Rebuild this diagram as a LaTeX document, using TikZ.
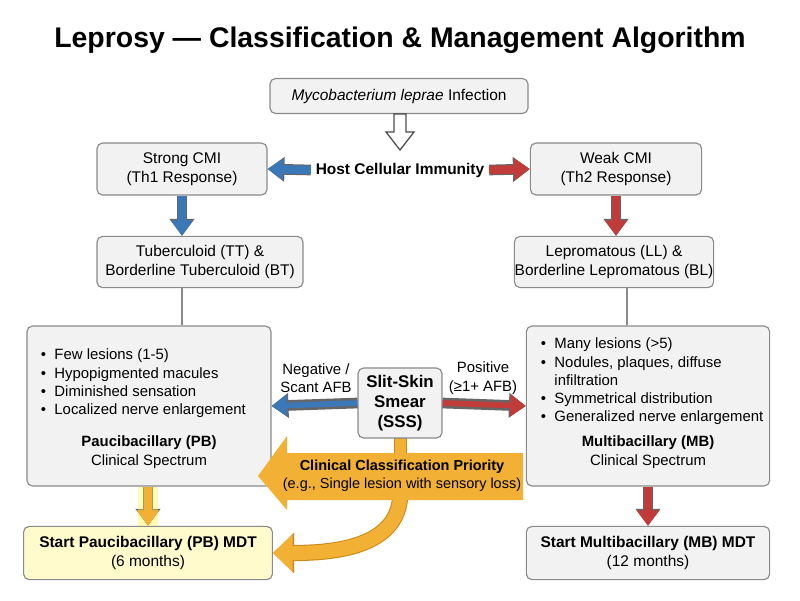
\documentclass[tikz,border=0pt]{standalone}
\usepackage{fontspec}
\setmainfont{Liberation Sans}
\usetikzlibrary{arrows.meta}
\definecolor{bx}{HTML}{F2F2F2}
\definecolor{bd}{HTML}{8A8A8A}
\definecolor{bl}{HTML}{3A78B8}
\definecolor{rd}{HTML}{C23B3B}
\definecolor{og}{HTML}{F2B035}
\definecolor{ogd}{HTML}{C98A1A}
\definecolor{yl}{HTML}{FFFBCC}
\begin{document}
\begin{tikzpicture}[x=0.025cm,y=-0.025cm,
  box/.style={draw=bd,fill=bx,rounded corners=4pt,line width=0.8pt,align=center,font=\fontsize{11}{13.5}\selectfont,inner sep=0pt},
  fat/.style={line width=6pt,#1,-{Triangle[length=11pt,width=15pt]},preaction={draw=black!60,line width=7.6pt,-{Triangle[length=12pt,width=17pt]}}},
  txt/.style={font=\fontsize{10.6}{13}\selectfont,align=center}]
\useasboundingbox (0,0) rectangle (800,600);
\fill[white] (0,0) rectangle (800,600);
\node[font=\bfseries\fontsize{20.2}{22}\selectfont] (title) at (400,40) {Leprosy — Classification \& Management Algorithm};
\node[box,minimum width=6.45cm,minimum height=0.875cm] (inf) at (399,96) {\textit{Mycobacterium leprae} Infection};
\node[font=\bfseries\fontsize{11}{13}\selectfont] (host) at (400,170) {Host Cellular Immunity};
\node[box,minimum width=4.25cm,minimum height=1.3cm] (str) at (182,169) {Strong CMI\\(Th1 Response)};
\node[box,minimum width=4.28cm,minimum height=1.3cm] (weak) at (616,169) {Weak CMI\\(Th2 Response)};
\node[box,minimum width=5.15cm,minimum height=1.28cm] (tt) at (200,262) {Tuberculoid (TT) \&\\Borderline Tuberculoid (BT)};
\node[box,minimum width=4.98cm,minimum height=1.28cm] (ll) at (614,262) {Lepromatous (LL) \&\\Borderline Lepromatous (BL)};
\node[box,minimum width=6.1cm,minimum height=4cm] (pb) at (149,406) {};
\node[box,minimum width=6.08cm,minimum height=4cm] (mb) at (648,406) {};
\node[txt,align=left,anchor=north west] (pbl) at (36,344) {\textbullet\ \ Few lesions (1-5)\\\textbullet\ \ Hypopigmented macules\\\textbullet\ \ Diminished sensation\\\textbullet\ \ Localized nerve enlargement};
\node[txt] (pbt) at (149,452) {\textbf{Paucibacillary (PB)}\\Clinical Spectrum};
\node[txt,align=left,anchor=north west] (mbl) at (536,333) {\textbullet\ \ Many lesions (>5)\\\textbullet\ \ Nodules, plaques, diffuse\\\phantom{\textbullet}\ \ infiltration\\\textbullet\ \ Symmetrical distribution\\\textbullet\ \ Generalized nerve enlargement};
\node[txt] (mbt) at (648,452) {\textbf{Multibacillary (MB)}\\Clinical Spectrum};
\fill[og,draw=ogd,line width=0.5pt] (394,438) rectangle (406,455);
\node[box,minimum width=2.1cm,minimum height=1.75cm,font=\bfseries\fontsize{12}{14}\selectfont] (sss) at (400,403) {Slit-Skin\\Smear\\(SSS)};
\node[box,fill=yl,minimum width=6.22cm,minimum height=1.33cm] (pbm) at (148,553) {\textbf{Start Paucibacillary (PB) MDT}\\(6 months)};
\node[box,minimum width=6.08cm,minimum height=1.33cm] (mbm) at (648,553) {\textbf{Start Multibacillary (MB) MDT}\\(12 months)};
\coordinate (h) at (400,150);
\draw[black!70,fill=white,line width=0.9pt] (394,114) -- (406,114) -- (406,132) -- (414,132) -- (h) -- (386,132) -- (394,132) -- cycle;
\draw[fat=bl] (host.west) -- (str.east);
\draw[fat=rd] (host.east) -- (weak.west);
\draw[fat=bl] (str.south) -- (str.south |- tt.north);
\draw[fat=rd] (weak.south) -- (weak.south |- ll.north);
\draw[bd,line width=0.8pt] (str.south |- tt.south) -- (str.south |- pb.north);
\draw[bd,line width=0.8pt] (ll.south) ++(13,0) coordinate (c1) -- (c1 |- mb.north);
\draw[fat=bl,line width=4pt] (sss.west) -- (pb.east);
\draw[fat=rd,line width=4pt] (sss.east) -- (mb.west);
\node[txt] (neg) at (316,378) {Negative /\\Scant AFB};
\node[txt] (pos) at (483,378) {Positive\\(≥1+ AFB)};
\fill[og] (523,453) -- (287,453) -- (287,436) -- (258,476) -- (287,510) -- (287,500) -- (523,500) -- cycle;
\draw[og,line width=10pt,-{Triangle[length=14pt,width=26pt]},preaction={draw=ogd,line width=11.5pt,-{Triangle[length=15pt,width=28pt]}}] (400,499) .. controls (395,545) and (340,553) .. (pbm.east);
\fill[og] (330,460) rectangle (520,500);
\node[txt,font=\fontsize{10.3}{12.5}\selectfont] (ccp) at (402,476) {\textbf{Clinical Classification Priority}\\(e.g., Single lesion with sensory loss)};
\draw[fat=og,preaction={draw=yellow!70,line width=14pt,opacity=0.4,-{}}] (pb.south -| pbm.north) -- (pbm.north);
\draw[fat=rd] (mb.south) -- (mbm.north);
\end{tikzpicture}
\end{document}
